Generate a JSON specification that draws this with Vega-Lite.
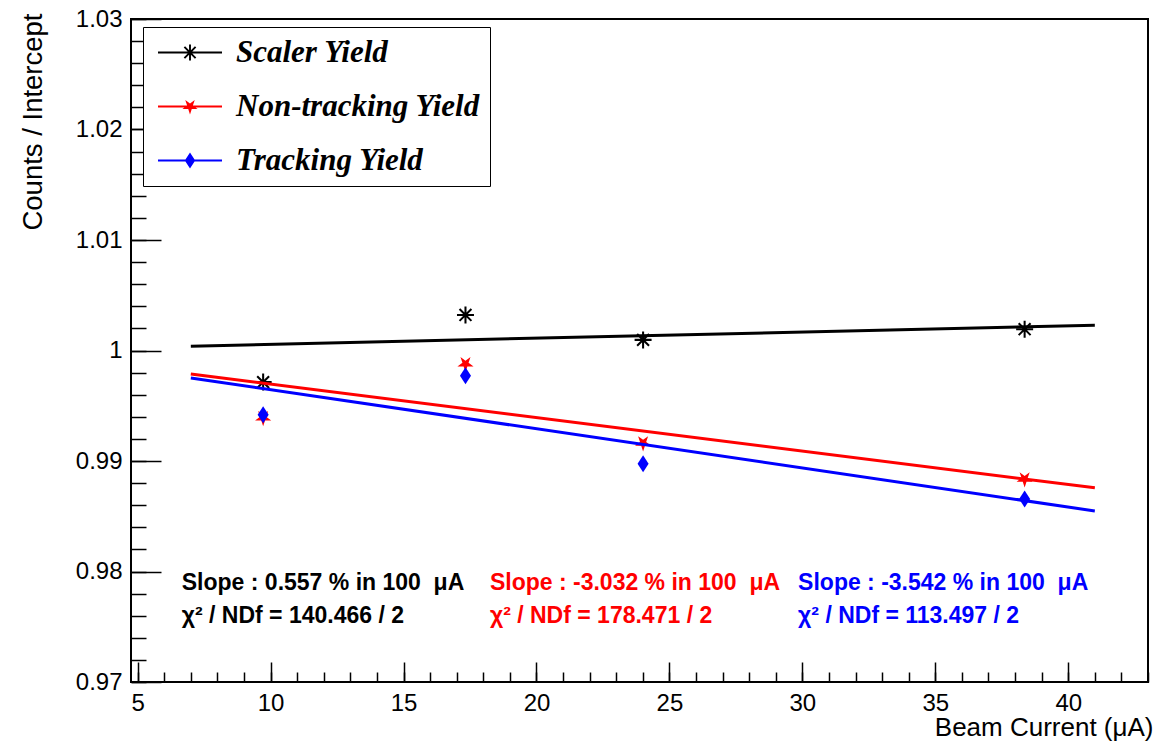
{
  "$schema": "https://vega.github.io/schema/vega-lite/v6.json",
  "width": 1017,
  "height": 663,
  "autosize": {"type": "none"},
  "padding": {"left": 131, "top": 19, "right": 13, "bottom": 59},
  "background": "white",
  "datasets": {
    "points": [
      {"series": "Scaler Yield", "current": 9.72, "ratio": 0.99714},
      {"series": "Scaler Yield", "current": 17.33, "ratio": 1.00322},
      {"series": "Scaler Yield", "current": 24.01, "ratio": 1.00096},
      {"series": "Scaler Yield", "current": 38.36, "ratio": 1.00193},
      {"series": "Non-tracking Yield", "current": 9.72, "ratio": 0.99391},
      {"series": "Non-tracking Yield", "current": 17.33, "ratio": 0.99879},
      {"series": "Non-tracking Yield", "current": 24.01, "ratio": 0.99162},
      {"series": "Non-tracking Yield", "current": 38.36, "ratio": 0.98836},
      {"series": "Tracking Yield", "current": 9.72, "ratio": 0.99418},
      {"series": "Tracking Yield", "current": 17.33, "ratio": 0.99771},
      {"series": "Tracking Yield", "current": 24.01, "ratio": 0.98975},
      {"series": "Tracking Yield", "current": 38.36, "ratio": 0.98655}
    ],
    "fits": [
      {"series": "Scaler Yield", "current": 7, "ratio": 1.00039},
      {"series": "Scaler Yield", "current": 41, "ratio": 1.002284},
      {"series": "Non-tracking Yield", "current": 7, "ratio": 0.997878},
      {"series": "Non-tracking Yield", "current": 41, "ratio": 0.987569},
      {"series": "Tracking Yield", "current": 7, "ratio": 0.997521},
      {"series": "Tracking Yield", "current": 41, "ratio": 0.985478}
    ]
  },
  "layer": [
    {
      "data": {"name": "points"},
      "mark": {"type": "point", "filled": true, "opacity": 1, "size": 289, "strokeWidth": 0},
      "encoding": {
        "x": {
          "field": "current", "type": "quantitative",
          "scale": {"domain": [4.75, 43.0], "nice": false, "zero": false},
          "axis": {
            "orient": "bottom", "values": [5,10,15,20,25,30,35,40],
            "tickSize": -20, "tickWidth": 1.5, "labelPadding": 29, "labelFontSize": 24,
            "labelFont": "Liberation Sans", "domain": false, "grid": false,
            "title": "Beam Current (μA)", "titleFont": "Liberation Sans", "titleFontSize": 26,
            "titleFontWeight": "normal", "titleAlign": "right", "titleBaseline": "alphabetic",
            "titleX": 1022, "titleY": 53
          }
        },
        "y": {
          "field": "ratio", "type": "quantitative",
          "scale": {"domain": [0.97, 1.03], "nice": false, "zero": false},
          "axis": {
            "orient": "left", "values": [0.97,0.98,0.99,1,1.01,1.02,1.03],
            "format": "~g",
            "tickSize": -30, "tickWidth": 1.5, "labelPadding": 39, "labelFontSize": 24,
            "labelFont": "Liberation Sans", "domain": false, "grid": false,
            "title": "Counts / Intercept", "titleFont": "Liberation Sans", "titleFontSize": 27.5,
            "titleFontWeight": "normal", "titleAngle": -90, "titleAlign": "right", "titleBaseline": "alphabetic",
            "titleX": -90, "titleY": -6
          }
        },
        "color": {
          "field": "series", "type": "nominal",
          "scale": {"domain": ["Scaler Yield", "Non-tracking Yield", "Tracking Yield"], "range": ["black", "red", "blue"]},
          "legend": null
        },
        "shape": {
          "field": "series", "type": "nominal",
          "scale": {
            "domain": ["Scaler Yield", "Non-tracking Yield", "Tracking Yield"],
            "range": [
              "M-1,-0.12H1V0.12H-1ZM-0.12,-1H0.12V1H-0.12ZM-0.615,-0.785L0.785,0.615L0.615,0.785L-0.785,-0.615ZM-0.615,0.785L-0.785,0.615L0.615,-0.785L0.785,-0.615Z",
              "M0,1L-0.22,0.31L-0.95,0.31L-0.36,-0.12L-0.59,-0.81L0,-0.38L0.59,-0.81L0.36,-0.12L0.95,0.31L0.22,0.31Z",
              "M0,-1L0.65,0L0,1L-0.65,0Z"
            ]
          },
          "legend": null
        }
      }
    },
    {
      "data": {"name": "fits"},
      "mark": {"type": "line", "strokeWidth": 3},
      "encoding": {
        "x": {
          "field": "current", "type": "quantitative",
          "axis": {
            "orient": "bottom", "values": [5,6,7,8,9,10,11,12,13,14,15,16,17,18,19,20,21,22,23,24,25,26,27,28,29,30,31,32,33,34,35,36,37,38,39,40,41,42,43],
            "tickSize": -10, "tickWidth": 1.5, "labels": false, "title": null, "domain": false, "grid": false
          }
        },
        "y": {
          "field": "ratio", "type": "quantitative",
          "axis": {
            "orient": "left", "values": [0.97,0.972,0.974,0.976,0.978,0.98,0.982,0.984,0.986,0.988,0.99,0.992,0.994,0.996,0.998,1,1.002,1.004,1.006,1.008,1.01,1.012,1.014,1.016,1.018,1.02,1.022,1.024,1.026,1.028,1.03],
            "tickSize": -15, "tickWidth": 1.5, "labels": false, "title": null, "domain": false, "grid": false
          }
        },
        "color": {
          "field": "series", "type": "nominal",
          "scale": {"domain": ["Scaler Yield", "Non-tracking Yield", "Tracking Yield"], "range": ["black", "red", "blue"]},
          "legend": null
        }
      }
    },
    {
      "data": {"values": []},
      "mark": {"type": "point", "filled": true, "opacity": 1, "strokeWidth": 0},
      "encoding": {
        "x": {"field": "current", "type": "quantitative", "axis": null},
        "y": {"field": "ratio", "type": "quantitative", "axis": null},
        "color": {
          "field": "series", "type": "nominal",
          "scale": {"domain": ["Scaler Yield", "Non-tracking Yield", "Tracking Yield"], "range": ["black", "red", "blue"]},
          "legend": {
            "orient": "none", "legendX": 12, "legendY": 8, "title": null, "direction": "vertical",
            "padding": 10, "fillColor": "white", "strokeColor": "black",
            "labelFont": "Liberation Serif", "labelFontSize": 31, "labelFontStyle": "italic", "labelFontWeight": "bold",
            "labelColor": "black", "labelBaseline": "middle", "labelLimit": 600,
            "symbolSize": 256, "symbolStrokeWidth": 0, "symbolOpacity": 1,
            "symbolOffset": 21.5, "labelOffset": 30.5, "rowPadding": 22
          }
        },
        "shape": {
          "field": "series", "type": "nominal",
          "scale": {
            "domain": ["Scaler Yield", "Non-tracking Yield", "Tracking Yield"],
            "range": [
              "M-4,-0.12H4V0.12H-4ZM-0.12,-1H0.12V1H-0.12ZM-0.615,-0.785L0.785,0.615L0.615,0.785L-0.785,-0.615ZM-0.615,0.785L-0.785,0.615L0.615,-0.785L0.785,-0.615Z",
              "M-4,-0.12H4V0.12H-4ZM0,1L-0.22,0.31L-0.95,0.31L-0.36,-0.12L-0.59,-0.81L0,-0.38L0.59,-0.81L0.36,-0.12L0.95,0.31L0.22,0.31Z",
              "M-4,-0.12H4V0.12H-4ZM0,-1L0.65,0L0,1L-0.65,0Z"
            ]
          }
        }
      }
    },
    {
      "data": {"values": [{"lines": ["Slope : 0.557 % in 100\u00a0 μA", "χ² / NDf = 140.466 / 2"]}]},
      "mark": {"type": "text", "font": "Liberation Sans", "fontWeight": "bold", "fontSize": 23, "align": "left", "baseline": "alphabetic", "lineHeight": 33, "color": "black"},
      "encoding": {
        "x": {"datum": 6.66, "type": "quantitative", "axis": null},
        "y": {"datum": 0.97835, "type": "quantitative", "axis": null},
        "text": {"field": "lines", "type": "nominal"}
      }
    },
    {
      "data": {"values": [{"lines": ["Slope : -3.032 % in 100\u00a0 μA", "χ² / NDf = 178.471 / 2"]}]},
      "mark": {"type": "text", "font": "Liberation Sans", "fontWeight": "bold", "fontSize": 23, "align": "left", "baseline": "alphabetic", "lineHeight": 33, "color": "red"},
      "encoding": {
        "x": {"datum": 18.25, "type": "quantitative", "axis": null},
        "y": {"datum": 0.97835, "type": "quantitative", "axis": null},
        "text": {"field": "lines", "type": "nominal"}
      }
    },
    {
      "data": {"values": [{"lines": ["Slope : -3.542 % in 100\u00a0 μA", "χ² / NDf = 113.497 / 2"]}]},
      "mark": {"type": "text", "font": "Liberation Sans", "fontWeight": "bold", "fontSize": 23, "align": "left", "baseline": "alphabetic", "lineHeight": 33, "color": "blue"},
      "encoding": {
        "x": {"datum": 29.84, "type": "quantitative", "axis": null},
        "y": {"datum": 0.97835, "type": "quantitative", "axis": null},
        "text": {"field": "lines", "type": "nominal"}
      }
    }
  ],
  "resolve": {
    "axis": {"x": "independent", "y": "independent"},
    "scale": {"color": "independent", "shape": "independent"},
    "legend": {"color": "independent", "shape": "independent"}
  },
  "config": {
    "view": {"stroke": "black", "strokeWidth": 2},
    "axis": {"grid": false, "domain": false, "tickColor": "black", "labelColor": "black", "titleColor": "black"}
  }
}
